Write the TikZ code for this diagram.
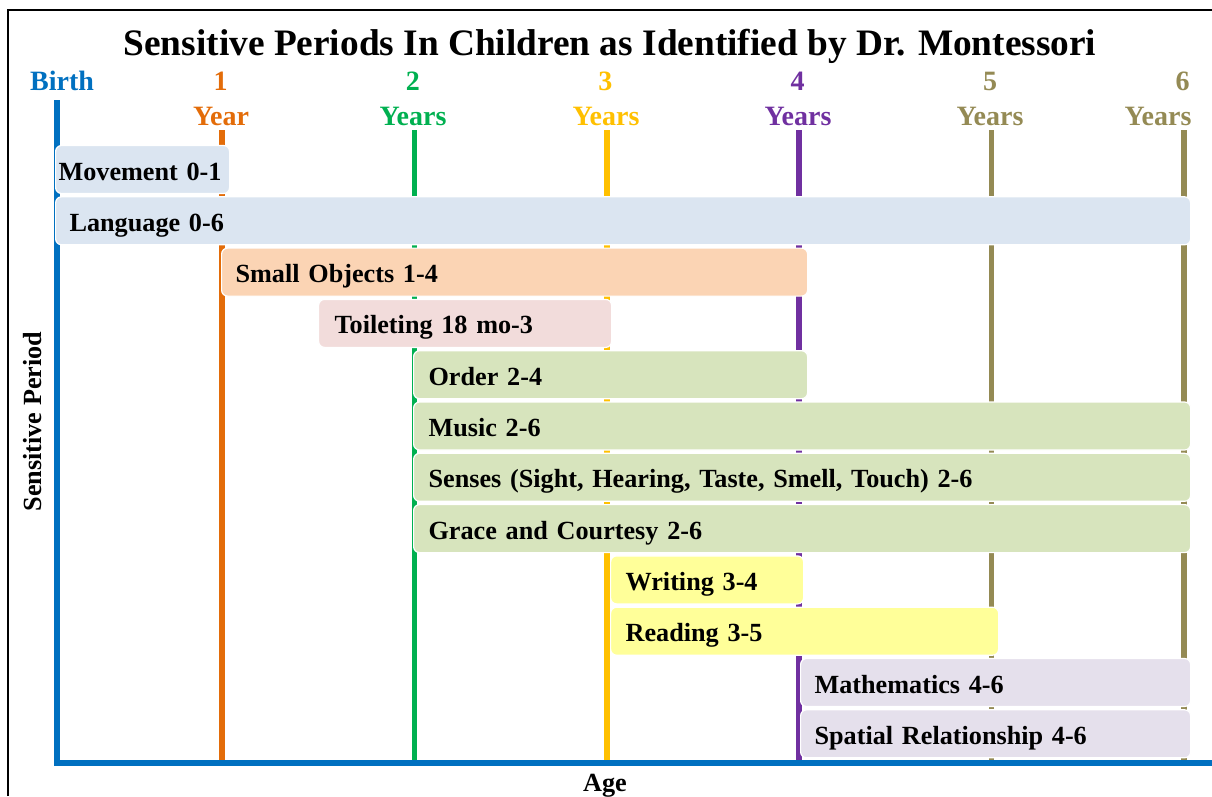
\documentclass[tikz,border=0pt]{standalone}
\usepackage{fontspec}
\setmainfont{Liberation Serif}
\definecolor{axisblue}{HTML}{0070C0}
\definecolor{yrone}{HTML}{E36C09}
\definecolor{yrtwo}{HTML}{00B050}
\definecolor{yrthree}{HTML}{FFC000}
\definecolor{yrfour}{HTML}{7030A0}
\definecolor{yrlate}{HTML}{948A54}
\definecolor{barblue}{HTML}{DBE5F1}
\definecolor{barpeach}{HTML}{FBD4B4}
\definecolor{barpink}{HTML}{F2DCDB}
\definecolor{bargreen}{HTML}{D7E4BD}
\definecolor{baryellow}{HTML}{FFFF99}
\definecolor{barlilac}{HTML}{E5E0EC}

\begin{document}
\begin{tikzpicture}[x=1pt,y=-1pt,
	yearlbl/.style={font=\fontsize{28}{30}\selectfont\bfseries,anchor=base},
	yearline/.style={line width=5.5pt},
	barbox/.style={rounded corners=6pt,draw=white,line width=1.2pt,minimum height=48pt,anchor=west,inner ysep=0pt,text height=21pt,text depth=0pt,align=left,font=\fontsize{26.2}{30}\selectfont\bfseries}]
	\useasboundingbox (0,0) rectangle (1212,796);
	\draw [line width=1.3pt] (8,796) -- (8,10) -- (1212,10);
	% title and axis labels
	\node [font=\fontsize{37.33}{40}\selectfont\bfseries,anchor=base] (title) at (610,55) {Sensitive Periods In Children as Identified by Dr. Montessori};
	\node [font=\fontsize{26.2}{30}\selectfont\bfseries,anchor=base,rotate=90] (ylabel) at (41.7,421.5) {Sensitive Period};
	\node [font=\fontsize{26.2}{30}\selectfont\bfseries,anchor=base] (xlabel) at (605,791) {Age};
	% years
	\node [yearlbl,text=axisblue] (birth) at (62,90.7) {Birth};
	\foreach \k/\c/\lx/\w in {1/yrone/221/Year,2/yrtwo/413/Years,3/yrthree/606/Years,4/yrfour/798/Years,5/yrlate/990/Years,6/yrlate/1158/Years}{
		\pgfmathsetmacro\x{222+192.4*(\k-1)}
		\node [yearlbl,text=\c] (num\k) at (\x-1.5,90.7) {\k};
		\node [yearlbl,text=\c] (unit\k) at (\lx,125) {\w};
		\coordinate (top\k) at (\x,130);
		\coordinate (bot\k) at (\x,763);
		\draw [yearline,draw=\c] (top\k) -- (bot\k);
	}
	\coordinate (origin) at (57,763);
	\coordinate (axtop) at (57,100);
	\coordinate (axend) at (1212,763);
	\draw [yearline,draw=axisblue] (axtop) -- (origin) -- (axend);
	% periods
	\foreach \nm/\xa/\xb/\row/\col/\pad/\txt in {
		movement/55/229/1/barblue/3/Movement 0-1,
		language/55/1190/2/barblue/14/Language 0-6,
		smallobj/221/807/3/barpeach/14/Small Objects 1-4,
		toilet/318/611/4/barpink/16/Toileting 18 mo-3,
		order/413/807/5/bargreen/15/Order 2-4,
		music/413/1190/6/bargreen/15/Music 2-6,
		senses/413/1190/7/bargreen/15/{Senses (Sight, Hearing, Taste, Smell, Touch) 2-6},
		grace/413/1190/8/bargreen/15/Grace and Courtesy 2-6,
		writing/610/803/9/baryellow/15/Writing 3-4,
		reading/610/998/10/baryellow/15/Reading 3-5,
		maths/800/1190/11/barlilac/14/Mathematics 4-6,
		spatial/800/1190/12/barlilac/14/Spatial Relationship 4-6}{
		\pgfmathsetmacro\bw{\xb-\xa}
		\pgfmathsetmacro\tw{\bw-2*\pad}
		\node [barbox,fill=\col,inner xsep=\pad pt,text width=\tw pt,minimum width=\bw pt] (\nm) at (\xa,{169.5+51.3*(\row-1)}) {\txt};
	}
\end{tikzpicture}
\end{document}
